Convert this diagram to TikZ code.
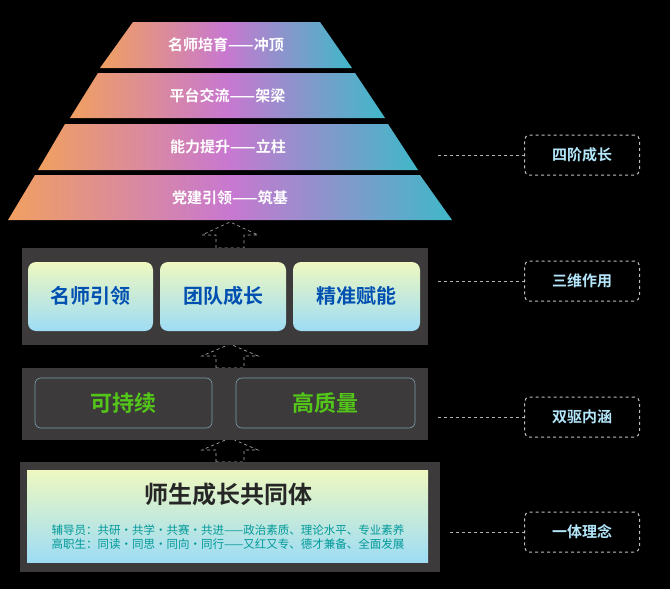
\documentclass[tikz,border=0pt]{standalone}
\usepackage{fontspec}
\setmainfont{Noto Sans CJK SC}
\newfontfamily\cjkb{Noto Sans CJK SC Bold}
\begin{document}
\begin{tikzpicture}[x=1pt,y=-1pt]
\definecolor{orng}{HTML}{F0A060}
\definecolor{viol}{HTML}{C878D0}
\definecolor{tealc}{HTML}{40B8C8}
\definecolor{panel}{HTML}{3C3A3A}
\definecolor{lblue}{HTML}{9EDCF5}
\definecolor{lyell}{HTML}{EEF8C0}
\tikzset{
  lbl/.style={draw=white!75!black,dashed,rounded corners=5pt,line width=1pt,minimum width=115pt,minimum height=40pt,text=cyan!30!white,font=\cjkb\fontsize{15}{15}\selectfont},
  conn/.style={draw=white!70!black,dashed,line width=0.8pt},
  ptext/.style={text=white,font=\cjkb\fontsize{15}{15}\selectfont},
  uparrow/.style={draw=white!70!black,dashed,line width=0.6pt},
}
\fill[black] (0,0) rectangle (670,589);
\useasboundingbox (0,0) rectangle (670,589);
% pyramid
\foreach \yt/\yb/\tl/\tr/\bl/\br/\n/\t in {
 22/68/133/320/100/352/p1/名师培育——冲顶,
 73/118/98/355/70/385/p2/平台交流——架梁,
 124/170/65/388/38/418/p3/能力提升——立柱,
 175/220/35/420/8/452/p4/党建引领——筑基}{
 \shade[left color=orng,right color=tealc,middle color=viol] (\tl,\yt) -- (\tr,\yt) -- (\br,\yb) -- (\bl,\yb) -- cycle;
 \node[ptext] (\n) at ({(\bl+\br)/2},{(\yt+\yb)/2}) {\t};
}
% arrows
\foreach \ya/\yb/\n in {222/248/a1,344/368/a2,438/462/a3}{
 \coordinate (\n) at (230,\ya);
 \draw[uparrow] (216,\yb) -- (216,{(\ya+\yb)/2}) -- (202,{(\ya+\yb)/2}) -- (230,\ya) -- (258,{(\ya+\yb)/2}) -- (244,{(\ya+\yb)/2}) -- (244,\yb) -- cycle;
}
% panel 2
\fill[panel] (22,248) rectangle (428,345);
\foreach \xa/\xb/\n/\t in {28/153/m1/名师引领,160/286/m2/团队成长,293/420/m3/精准赋能}{
 \shade[top color=lyell,bottom color=lblue,rounded corners=8pt] (\xa,262) rectangle (\xb,331);
 \node[text=blue!55!cyan!70!black,font=\cjkb\fontsize{20}{20}\selectfont] (\n) at ({(\xa+\xb)/2},296) {\t};
}
% panel 3
\fill[panel] (22,368) rectangle (428,440);
\foreach \xa/\xb/\n/\t in {35/212/d1/可持续,236/415/d2/高质量}{
 \draw[cyan!30!gray,rounded corners=6pt,line width=0.6pt] (\xa,378) rectangle (\xb,428);
 \node[text=green!50!olive!90!white,font=\cjkb\fontsize{22}{22}\selectfont] (\n) at ({(\xa+\xb)/2},403) {\t};
}
% panel 4
\fill[panel] (20,462) rectangle (440,572);
\shade[top color=lyell,bottom color=lblue] (27,470) rectangle (428,562);
\node[text=black!85,font=\cjkb\fontsize{24}{24}\selectfont] (t4) at (228,494) {师生成长共同体};
\node[text=teal!80!cyan,font=\fontsize{11.5}{14}\selectfont,align=left] (s4) at (228,537) {辅导员：共研·共学·共赛·共进——政治素质、理论水平、专业素养\\高职生：同读·同思·同向·同行——又红又专、德才兼备、全面发展};
% labels
\node[lbl] (L1) at (582,155) {四阶成长};
\node[lbl] (L2) at (582,281) {三维作用};
\node[lbl] (L3) at (582,417) {双驱内涵};
\node[lbl] (L4) at (582,532) {一体理念};
\coordinate (c1) at (438,155);
\coordinate (c2) at (438,281);
\coordinate (c3) at (438,417);
\coordinate (c4) at (450,532);
\foreach \i in {1,2,3,4}{\draw[conn] (c\i) -- (L\i.west);}
\end{tikzpicture}
\end{document}
